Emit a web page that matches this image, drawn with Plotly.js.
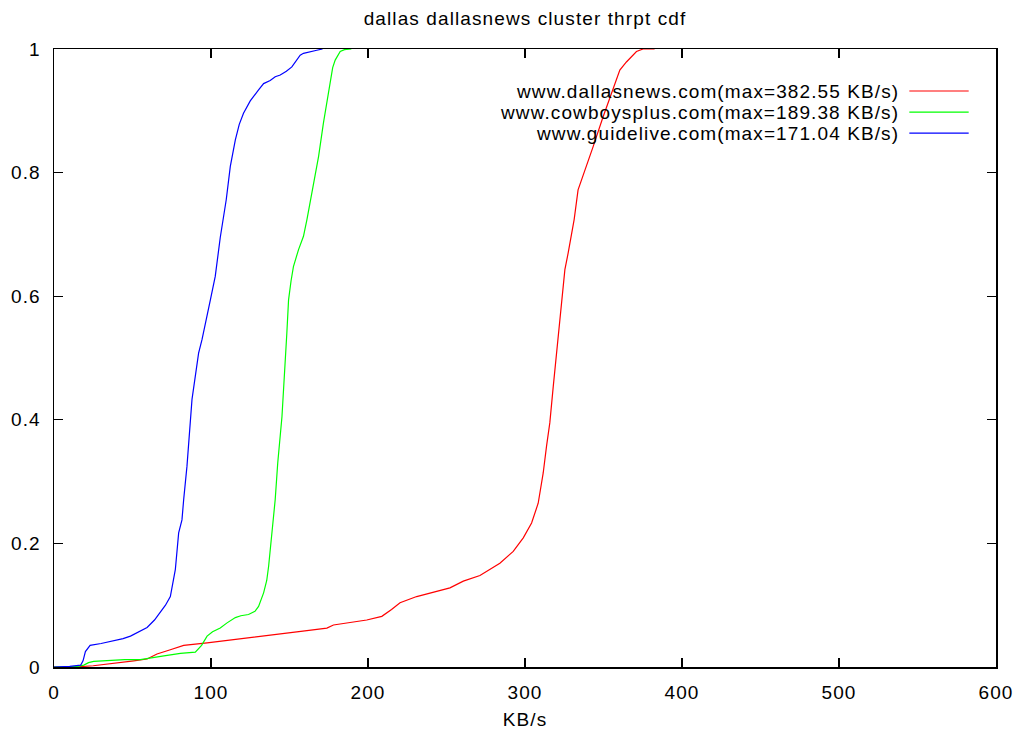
<!DOCTYPE html>
<html>
<head>
<meta charset="utf-8">
<script src="https://cdn.plot.ly/plotly-3.0.1.min.js"></script>
<style>
html,body{margin:0;padding:0;background:#fff;}
#chart{width:1026px;height:736px;}
svg text{letter-spacing:1.1px;}
</style>
</head>
<body>
<div id="chart"></div>
<script>
// Series names and colours
const seriesNames = [
  "www.dallasnews.com(max=382.55 KB/s)",
  "www.cowboysplus.com(max=189.38 KB/s)",
  "www.guidelive.com(max=171.04 KB/s)"
];
const seriesColors = ["#ff0000", "#00ff00", "#0000ff"];

// dallasnews (red)
const dallasX = [0, 12.6, 25, 40, 50.8, 59.3, 65.6, 74.1, 82.6, 97.5, 118.6, 139.8, 161.1, 173.8, 178, 199.2, 208.8, 215, 220.4, 231, 252.2, 260.7, 271.3, 284, 292.5, 298.9, 304.2, 308.4, 311.6, 313.7, 315.8, 318, 321.1, 323.3, 325.4, 327.5, 329.6, 331.3, 333.8, 339.2, 343.4, 349.7, 356.1, 360.4, 364.6, 371, 375.2, 382.55];
const dallasY = [0, 0, 0.002, 0.006, 0.01, 0.013, 0.021, 0.028, 0.035, 0.039, 0.046, 0.053, 0.059, 0.063, 0.068, 0.076, 0.082, 0.093, 0.104, 0.114, 0.128, 0.139, 0.148, 0.168, 0.187, 0.209, 0.233, 0.265, 0.314, 0.357, 0.395, 0.454, 0.535, 0.589, 0.643, 0.67, 0.702, 0.724, 0.772, 0.81, 0.842, 0.89, 0.934, 0.966, 0.979, 0.996, 1, 1];

// cowboysplus (green)
const cowboysX = [0, 15, 19, 22, 25.3, 35, 45, 55, 61.4, 70, 80.5, 90, 94, 97.5, 101, 105.9, 110, 115.5, 119, 123.9, 128, 130.3, 133.5, 135.5, 136.7, 138.8, 140.9, 142.5, 145.2, 148.3, 149.4, 151, 152.5, 155.7, 158.9, 161.1, 164.2, 168.5, 171.6, 175.9, 177.5, 179.1, 182.3, 185, 189.38];
const cowboysY = [0, 0.001, 0.003, 0.007, 0.009, 0.011, 0.012, 0.012, 0.015, 0.018, 0.022, 0.024, 0.035, 0.05, 0.057, 0.063, 0.071, 0.08, 0.083, 0.085, 0.09, 0.098, 0.12, 0.14, 0.163, 0.217, 0.271, 0.33, 0.405, 0.54, 0.594, 0.625, 0.648, 0.675, 0.697, 0.724, 0.766, 0.826, 0.88, 0.95, 0.97, 0.982, 0.996, 0.999, 1];

// guidelive (blue)
const guideX = [0, 10, 17, 18.5, 20, 23, 30, 38, 44, 48.7, 54, 59.3, 64, 67.7, 71, 74.1, 77.3, 79.4, 81.5, 82.6, 84.7, 87.9, 90, 92.1, 94.3, 97, 99.6, 102.7, 105.9, 109.7, 112.3, 115.5, 118, 120.7, 125, 130.3, 133.5, 137.7, 140.9, 144.1, 148, 151.5, 154, 156.8, 158.9, 163, 167.4, 171.04];
const guideY = [0, 0.001, 0.003, 0.01, 0.025, 0.035, 0.038, 0.042, 0.046, 0.05, 0.057, 0.064, 0.076, 0.088, 0.1, 0.114, 0.158, 0.217, 0.238, 0.271, 0.325, 0.433, 0.475, 0.508, 0.53, 0.56, 0.594, 0.632, 0.695, 0.756, 0.81, 0.853, 0.878, 0.896, 0.916, 0.934, 0.944, 0.949, 0.955, 0.958, 0.964, 0.971, 0.98, 0.99, 0.993, 0.996, 0.998, 1];

const xTicks = [0, 100, 200, 300, 400, 500, 600];
const yTicks = [0, 0.2, 0.4, 0.6, 0.8, 1];
const yTickText = ["0", "0.2", "0.4", "0.6", "0.8", "1"];

const FONT = "Liberation Sans, Arial, sans-serif";
const seriesX = [dallasX, cowboysX, guideX];
const seriesY = [dallasY, cowboysY, guideY];

const traces = seriesNames.map((n, i) => ({
  x: seriesX[i], y: seriesY[i], name: n, type: "scatter", mode: "lines",
  line: {color: seriesColors[i], width: 1.2}, showlegend: false
}));

// gnuplot-style key: right-aligned text, line sample on the right
const keyTextX = 0.899, keyLineX0 = 0.908, keyLineX1 = 0.971;
const keyRowsY = [0.932, 0.898, 0.864];
const annotations = seriesNames.map((n, i) => ({
  xref: "paper", yref: "paper", x: keyTextX, y: keyRowsY[i],
  xanchor: "right", yanchor: "middle", text: n, showarrow: false,
  font: {family: FONT, size: 19, color: "#000"}
}));
const shapes = seriesNames.map((n, i) => ({
  type: "line", xref: "paper", yref: "paper",
  x0: keyLineX0, x1: keyLineX1, y0: keyRowsY[i], y1: keyRowsY[i],
  line: {color: seriesColors[i], width: 1.2}
}));

const axisCommon = {
  showgrid: false, zeroline: false, showline: true, linecolor: "#000", linewidth: 1.5,
  mirror: "ticks", ticks: "inside", ticklen: 9, tickwidth: 1.2, tickcolor: "#000",
  tickfont: {family: FONT, size: 19, color: "#000"}
};

const layout = {
  width: 1026, height: 736,
  margin: {l: 54, r: 30, t: 49, b: 69},
  paper_bgcolor: "#fff", plot_bgcolor: "#fff",
  title: {text: "dallas dallasnews cluster thrpt cdf", x: 0.5, xanchor: "center", xref: "paper",
          y: 0.975, yanchor: "middle", yref: "container",
          font: {family: FONT, size: 19, color: "#000"}},
  xaxis: Object.assign({}, axisCommon, {
    range: [0, 600], tickvals: xTicks, ticktext: xTicks.map(String),
    ticklabelstandoff: 8,
    title: {text: "KB/s", standoff: 10, font: {family: FONT, size: 19, color: "#000"}}
  }),
  yaxis: Object.assign({}, axisCommon, {
    range: [0, 1], tickvals: yTicks, ticktext: yTickText,
    ticklabelstandoff: 8
  }),
  annotations: annotations,
  shapes: shapes,
  showlegend: false
};

Plotly.newPlot("chart", traces, layout, {displayModeBar: false, staticPlot: true});
</script>
</body>
</html>
